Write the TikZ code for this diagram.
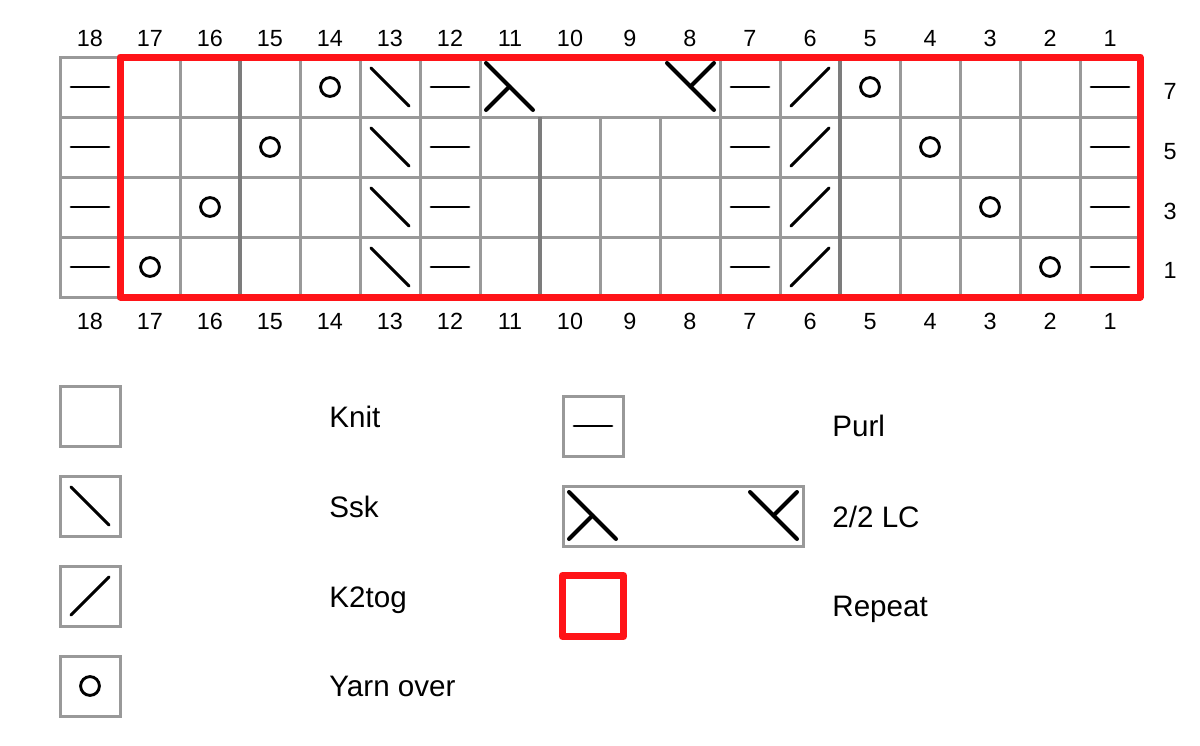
\documentclass[tikz,border=0pt]{standalone}
\usepackage{fontspec}
\setmainfont{Liberation Sans}
\definecolor{gridgray}{HTML}{999999}
\definecolor{darkgrid}{HTML}{7C7C7C}
\definecolor{repeatred}{HTML}{FF1418}
\tikzset{
  cell/.style={draw=gridgray, line width=1.5pt, minimum width=30pt, minimum height=30pt, inner sep=0pt, outer sep=0pt},
  sym/.style={black, line width=1.45pt, line cap=round},
  cablesym/.style={black, line width=2pt, line cap=round},
  knitcell/.style={cell},
  purlcell/.style={cell, path picture={\draw[sym] ([xshift=5.5pt]path picture bounding box.west) -- ([xshift=-5.5pt]path picture bounding box.east);}},
  sskcell/.style={cell, path picture={\draw[sym] ([shift={(5.5pt,-5.5pt)}]path picture bounding box.north west) -- ([shift={(-5.5pt,5.5pt)}]path picture bounding box.south east);}},
  ktogcell/.style={cell, path picture={\draw[sym] ([shift={(5.5pt,5.5pt)}]path picture bounding box.south west) -- ([shift={(-5.5pt,-5.5pt)}]path picture bounding box.north east);}},
  yocell/.style={cell, path picture={\draw[sym] (path picture bounding box.center) circle[radius=4.7pt];}},
  cablecell/.style={cell, minimum width=120pt, path picture={
    \draw[cablesym] ([shift={(3pt,-3pt)}]path picture bounding box.north west) -- ([shift={(26.5pt,-26.5pt)}]path picture bounding box.north west);
    \draw[cablesym] ([shift={(14.75pt,-14.75pt)}]path picture bounding box.north west) -- ([shift={(3pt,-26.5pt)}]path picture bounding box.north west);
    \draw[cablesym] ([shift={(-26.5pt,-3pt)}]path picture bounding box.north east) -- ([shift={(-3pt,-26.5pt)}]path picture bounding box.north east);
    \draw[cablesym] ([shift={(-3pt,-3pt)}]path picture bounding box.north east) -- ([shift={(-14.75pt,-14.75pt)}]path picture bounding box.north east);
  }},
  darkline/.style={draw=darkgrid, line width=1.7pt},
  repeatline/.style={draw=repeatred, line width=3.5pt, line join=round},
  repeatcell/.style={repeatline, minimum width=30.5pt, minimum height=30.5pt, inner sep=0pt},
  numlabel/.style={anchor=base, inner sep=0pt, font=\fontsize{11.7pt}{14pt}\selectfont},
  legtext/.style={anchor=base west, inner sep=0pt, font=\fontsize{14.8pt}{17pt}\selectfont},
}
\begin{document}
\begin{tikzpicture}[x=0.5pt, y=-0.5pt]
\useasboundingbox (0,0) rectangle (1200,745);
\fill[white] (0,0) rectangle (1200,745);
% row 7 (top)
\foreach \s [count=\k] in {purlcell,knitcell,knitcell,knitcell,yocell,sskcell,purlcell} {
  \pgfmathtruncatemacro\c{19-\k}
  \node[\s] (cell-\c-7) at ({30+60*\k}, 87) {};
}
\node[cablecell] (cable-7) at (600, 87) {};
\foreach \s [count=\k from 12] in {purlcell,ktogcell,yocell,knitcell,knitcell,knitcell,purlcell} {
  \pgfmathtruncatemacro\c{19-\k}
  \node[\s] (cell-\c-7) at ({30+60*\k}, 87) {};
}
% row 5
\foreach \s [count=\k] in {purlcell,knitcell,knitcell,yocell,knitcell,sskcell,purlcell,knitcell,knitcell,knitcell,knitcell,purlcell,ktogcell,knitcell,yocell,knitcell,knitcell,purlcell} {
  \pgfmathtruncatemacro\c{19-\k}
  \node[\s] (cell-\c-5) at ({30+60*\k}, 147) {};
}
% row 3
\foreach \s [count=\k] in {purlcell,knitcell,yocell,knitcell,knitcell,sskcell,purlcell,knitcell,knitcell,knitcell,knitcell,purlcell,ktogcell,knitcell,knitcell,yocell,knitcell,purlcell} {
  \pgfmathtruncatemacro\c{19-\k}
  \node[\s] (cell-\c-3) at ({30+60*\k}, 207) {};
}
% row 1
\foreach \s [count=\k] in {purlcell,yocell,knitcell,knitcell,knitcell,sskcell,purlcell,knitcell,knitcell,knitcell,knitcell,purlcell,ktogcell,knitcell,knitcell,knitcell,yocell,purlcell} {
  \pgfmathtruncatemacro\c{19-\k}
  \node[\s] (cell-\c-1) at ({30+60*\k}, 267) {};
}
% darker grid lines
\draw[darkline] (cell-16-7.north east) -- (cell-16-1.south east);
\draw[darkline] (cell-6-7.north east) -- (cell-6-1.south east);
\draw[darkline] (cell-11-5.north east) -- (cell-11-1.south east);
% repeat outline
\draw[repeatline] (cell-17-7.north west) rectangle (cell-1-1.south east);
% column numbers
\foreach \k in {1,...,18} {
  \pgfmathtruncatemacro\c{19-\k}
  \node[numlabel] (top-\c) at ({30+60*\k}, 46.5) {\c};
  \node[numlabel] (bot-\c) at ({30+60*\k}, 329.5) {\c};
}
% row numbers
\node[numlabel] (row-7) at (1170, 99.5) {7};
\node[numlabel] (row-5) at (1170, 159) {5};
\node[numlabel] (row-3) at (1170, 219) {3};
\node[numlabel] (row-1) at (1170, 278.5) {1};
% legend left
\node[knitcell] (leg-knit) at (90, 416) {};
\node[sskcell] (leg-ssk) at (90, 506) {};
\node[ktogcell] (leg-ktog) at (90, 596) {};
\node[yocell] (leg-yo) at (90, 686) {};
\node[legtext] (txt-knit) at (329, 427) {Knit};
\node[legtext] (txt-ssk) at (329, 517) {Ssk};
\node[legtext] (txt-ktog) at (329, 607) {K2tog};
\node[legtext] (txt-yo) at (329, 696) {Yarn over};
% legend right
\node[purlcell] (leg-purl) at (593, 426) {};
\node[cablecell] (leg-cable) at (683, 516) {};
\node[repeatcell] (leg-repeat) at (593, 606) {};
\node[legtext] (txt-purl) at (832, 436) {Purl};
\node[legtext] (txt-cable) at (832, 527) {2/2 LC};
\node[legtext] (txt-repeat) at (832, 616) {Repeat};
\end{tikzpicture}
\end{document}
